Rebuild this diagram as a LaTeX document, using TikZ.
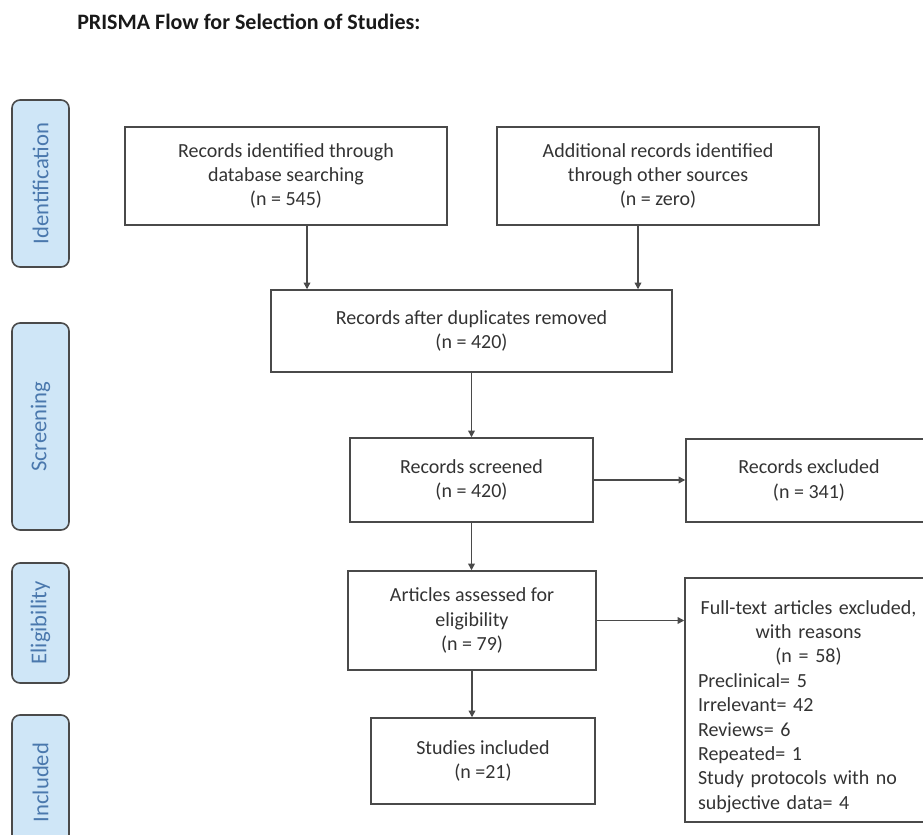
\documentclass[tikz,border=0pt]{standalone}
\usepackage{fontspec}
\setmainfont{Carlito}
\usepackage{tikz}
\usetikzlibrary{shapes, arrows.meta, positioning, calc}

\definecolor{boxline}{HTML}{4A4A4A}
\definecolor{boxtext}{HTML}{333333}
\definecolor{phasefill}{HTML}{CFE6F7}
\definecolor{phasetext}{HTML}{4A78AD}

\begin{document}
\begin{tikzpicture}[
    x=0.75pt, y=-0.75pt,
    box/.style={rectangle, draw=boxline, line width=1.1pt, align=center, text=boxtext, inner sep=0pt, font=\fontsize{15}{18.3}\selectfont},
    phase/.style={rectangle, rounded corners=6pt, draw=boxline, line width=1.2pt, fill=phasefill, rotate=90, minimum height=42.75pt, text=phasetext, font=\fontsize{17}{19}\selectfont},
    >={Triangle[length=5pt, width=5pt]}
]
    \useasboundingbox (0,0) rectangle (923,834);

    % Titre
    \node[anchor=west, inner sep=0pt, text=black!90, font=\bfseries\fontsize{16.5}{20}\selectfont] (titre) at (77,22) {PRISMA Flow for Selection of Studies:};

    % Phases (colonne de gauche)
    \node[phase, minimum width=125.25pt] (identification) at (40.5,183.5) {Identification};
    \node[phase, minimum width=155.25pt] (screening) at (40.5,426.5) {Screening};
    \node[phase, minimum width=90pt] (eligibility) at (40.5,623) {Eligibility};
    \node[phase, minimum width=101.25pt] (included) at (40.5,782.5) {Included};

    % Boîtes principales
    \node[box, minimum width=241.5pt, minimum height=73.5pt] (records) at (286,176) {Records identified through\\database searching\\(n = 545)};
    \node[box, minimum width=241.5pt, minimum height=73.5pt] (other) at (658,176) {Additional records identified\\through other sources\\(n = zero)};
    \node[box, minimum width=300.75pt, minimum height=61.5pt] (dedup) at (471.5,331) {Records after duplicates removed\\(n = 420)};
    \node[box, minimum width=182.25pt, minimum height=63pt] (screened) at (471.5,480) {Records screened\\(n = 420)};
    \node[box, minimum width=184.5pt, minimum height=62.25pt] (excluded) at (809,480.5) {Records excluded\\(n = 341)};
    \node[box, minimum width=186pt, minimum height=74.25pt] (assessed) at (472,620.5) {Articles assessed for\\eligibility\\(n = 79)};
    \node[box, minimum width=168pt, minimum height=64.5pt] (studies) at (483,761) {Studies included\\(n =21)};

    % Boîte des exclusions avec raisons
    \node[box, align=left, text width=165.75pt, minimum width=185.25pt, minimum height=183pt] (fulltext) at (808.5,700)
        {\centering\rule{0pt}{20pt}Full-text articles excluded,\\with reasons\\\mbox{(n = 58)}\par\raggedright
         Preclinical= 5\\Irrelevant= 42\\Reviews= 6\\Repeated= 1\\Study protocols with no\\subjective data= 4};

    % Flèches vers les doublons
    \draw[->, line width=1pt, boxline] ([xshift=15.75pt]records.south) -- ([xshift=15.75pt]records.south |- dedup.north);
    \draw[->, line width=1pt, boxline] ([xshift=-15pt]other.south) -- ([xshift=-15pt]other.south |- dedup.north);

    % Flèches verticales
    \draw[->, line width=1pt, boxline] (dedup.south) -- (dedup.south |- screened.north);
    \draw[->, line width=1pt, boxline] (screened.south) -- (screened.south |- assessed.north);
    \draw[->, line width=1pt, boxline] (assessed.south) -- (assessed.south |- studies.north);

    % Flèches vers les exclusions
    \draw[->, line width=1pt, boxline] (screened.east) -- (screened.east -| excluded.west);
    \draw[->, line width=1pt, boxline] (assessed.east) -- (assessed.east -| fulltext.west);

\end{tikzpicture}
\end{document}
